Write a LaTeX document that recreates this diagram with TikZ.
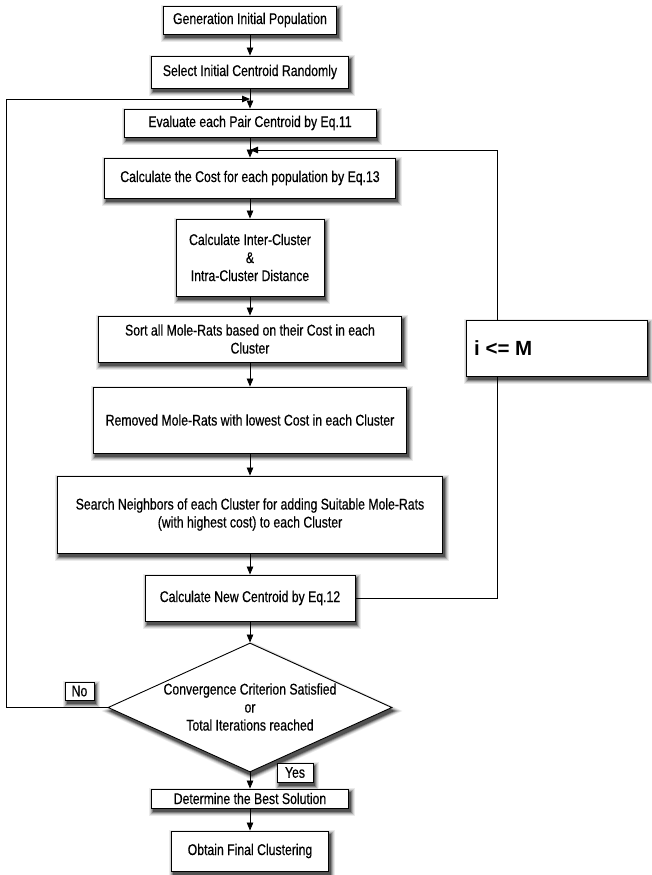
\documentclass[tikz,border=0pt]{standalone}
\usepackage{fontspec}
\setmainfont{Liberation Sans}[FakeStretch=0.79,FakeBold=0.5]
\newfontfamily\imfont{Liberation Sans}
\usetikzlibrary{arrows.meta,shapes.geometric,backgrounds}
\newcommand\boxshade[1]{%
  \foreach \e/\c in {4/8,3/18,2/32,1/50,0/68}{%
    \fill[black!\c] ([xshift={2pt-\e pt},yshift={-3.5pt-\e pt}]#1.south west) rectangle ([xshift={2pt+\e pt},yshift={-3.5pt+\e pt}]#1.north east);
  }}
\newcommand\diashade[1]{%
  \foreach \e/\c in {4/8,3/18,2/32,1/50,0/68}{%
    \fill[black!\c] ([xshift={2pt-2*\e pt},yshift=-3.5pt]#1.west) -- ([xshift=2pt,yshift={-3.5pt+\e pt}]#1.north) -- ([xshift={2pt+2*\e pt},yshift=-3.5pt]#1.east) -- ([xshift=2pt,yshift={-3.5pt-\e pt}]#1.south) -- cycle;
  }}
\begin{document}
\begin{tikzpicture}[x=1pt,y=-1pt,
  font=\fontsize{15.5}{18}\selectfont,
  box/.style={draw=black,line width=0.9pt,fill=white,align=center,inner sep=0pt},
  lab/.style={box},
  arr/.style={line width=0.8pt,-{Triangle[length=8pt,width=6.5pt]}},
  ln/.style={line width=0.8pt}]
\useasboundingbox (0,0) rectangle (651,875);

\node[box,minimum width=173pt,minimum height=28pt] (b1) at (250,20) {Generation Initial Population};
\node[box,minimum width=197pt,minimum height=32pt] (b2) at (250,72) {Select Initial Centroid Randomly};
\node[box,minimum width=252pt,minimum height=28pt] (b3) at (250,123) {Evaluate each Pair Centroid by Eq.11};
\node[box,minimum width=291pt,minimum height=40pt] (b4) at (250,178) {Calculate the Cost for each population by Eq.13};
\node[box,minimum width=148pt,minimum height=77pt] (b5) at (250,257.5) {Calculate Inter-Cluster\\\&\\Intra-Cluster Distance};
\node[box,minimum width=303pt,minimum height=46pt] (b6) at (250,339) {Sort all Mole-Rats based on their Cost in each\\Cluster};
\node[box,minimum width=313pt,minimum height=66pt] (b7) at (250,420) {Removed Mole-Rats with lowest Cost in each Cluster};
\node[box,minimum width=385pt,minimum height=77pt] (b8) at (250,514.5) {Search Neighbors of each Cluster for adding Suitable Mole-Rats\\(with highest cost) to each Cluster};
\node[box,minimum width=210pt,minimum height=46pt] (b9) at (250,598) {Calculate New Centroid by Eq.12};
\node[box,shape=diamond,minimum width=284pt,minimum height=129pt] (dia) at (250,707.5) {};
\node[align=center,inner sep=0pt] (diat) at (250,707) {Convergence Criterion Satisfied\\or\\Total Iterations reached};
\node[box,minimum width=197pt,minimum height=19pt] (b10) at (250,798.5) {Determine the Best Solution};
\node[box,minimum width=157pt,minimum height=40pt] (b11) at (250,851) {Obtain Final Clustering};

\node[lab,minimum width=29pt,minimum height=18pt] (no) at (79.5,691) {No};
\node[lab,minimum width=36pt,minimum height=19pt] (yes) at (295,772.5) {Yes};
\node[box,minimum width=181pt,minimum height=56pt] (im) at (556.5,348) {};
\node[anchor=west,inner sep=0pt,font=\imfont\fontsize{20.5}{24}\selectfont\bfseries] (imt) at (474,348) {i <= M};

\begin{scope}[on background layer]
  \foreach \n in {b1,b2,b3,b4,b5,b6,b7,b8,b9,b10,b11,no,yes,im}{\boxshade{\n}}
  \diashade{dia}
\end{scope}

\coordinate (jtop) at (250,99);
\coordinate (jbot) at (250,150);
\coordinate (lc) at (6,99);
\coordinate (rc) at (497,150);

\draw[arr] (b1) -- (b2);
\draw[arr] (b2) -- (b3);
\draw[arr] (b3) -- (b4);
\draw[arr] (b4) -- (b5);
\draw[arr] (b5) -- (b6);
\draw[arr] (b6) -- (b7);
\draw[arr] (b7) -- (b8);
\draw[arr] (b8) -- (b9);
\draw[arr] (b9) -- (dia);
\draw[arr] (dia.south) -- (b10);
\draw[arr] (b10) -- (b11);

\draw[arr] (dia.west) -| (lc) -- (jtop);
\draw[ln] (b9.east) -| (rc |- im.south);
\draw[arr] (rc |- im.north) -- (rc) -- (jbot);
\end{tikzpicture}
\end{document}
